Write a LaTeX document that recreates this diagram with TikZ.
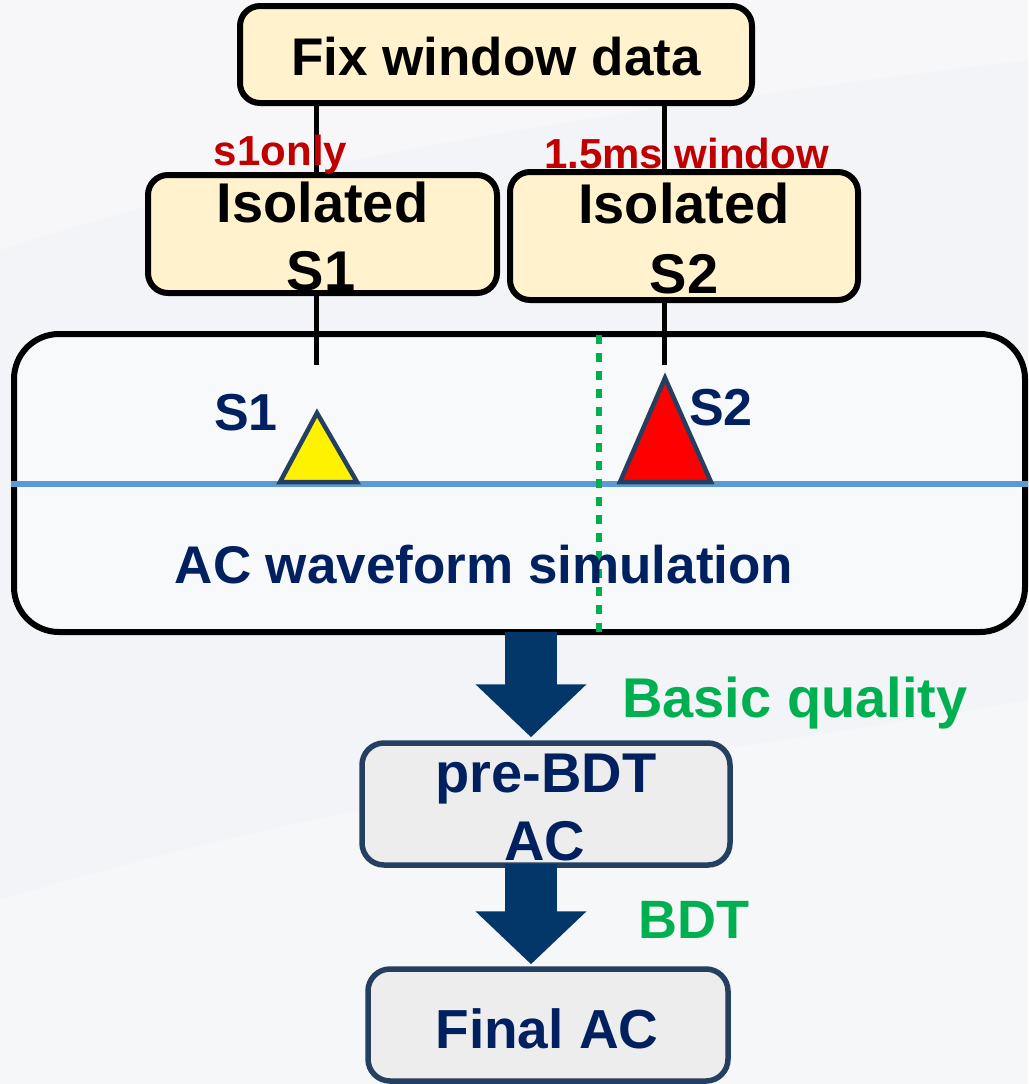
\documentclass[tikz,border=0pt]{standalone}
\usepackage{fontspec}
\setmainfont{Liberation Sans}
\usetikzlibrary{arrows.meta,calc}
\definecolor{bgc}{HTML}{F3F4F7}
\definecolor{boxfill}{HTML}{FFF2CC}
\definecolor{grayfill}{HTML}{EDEDED}
\definecolor{navy}{HTML}{002060}
\definecolor{darkedge}{HTML}{243F60}
\definecolor{arrowc}{HTML}{03376A}
\definecolor{redlab}{HTML}{C00000}
\definecolor{greenlab}{HTML}{00B050}
\definecolor{bluel}{HTML}{5B9BD5}
\definecolor{bigfill}{HTML}{F8F9FB}
\newcommand{\fs}[1]{\fontsize{#1}{#1}\selectfont\bfseries}
\begin{document}
\begin{tikzpicture}[x=1pt,y=-1pt,
  ybox/.style={draw=black,line width=6pt,fill=boxfill,rounded corners=20pt,inner sep=0pt},
  gbox/.style={draw=darkedge,line width=5.5pt,fill=grayfill,rounded corners=22pt,inner sep=0pt},
  txt/.style={anchor=base,inner sep=0pt},
  conn/.style={draw=black,line width=5pt},
  bigarrow/.style={draw=arrowc,line width=52pt,-{Triangle[length=53pt,width=108pt]}},
  tri/.style={draw=darkedge,line width=4.5pt,line join=miter}]
\useasboundingbox (0,0) rectangle (1028,1084);
\fill[bgc] (0,0) rectangle (1028,1084);
\fill[white,opacity=0.35] (0,250) .. controls (300,150) and (700,100) .. (1028,60) -- (1028,0) -- (0,0) -- cycle;
\fill[white,opacity=0.3] (0,900) .. controls (400,780) and (700,760) .. (1028,700) -- (1028,1084) -- (0,1084) -- cycle;

% boxes
\node[ybox,minimum width=512pt,minimum height=97pt] (fix) at (496,54.5) {};
\node[ybox,minimum width=349pt,minimum height=118pt] (iso1) at (322.5,234) {};
\node[ybox,minimum width=348pt,minimum height=128pt] (iso2) at (684,236) {};

% connectors
\coordinate (e1) at (316,365);
\coordinate (e2) at (664,365);
\draw[conn] (fix.south -| e1) -- (iso1.north -| e1);
\draw[conn] (fix.south -| e2) -- (iso2.north -| e2);

% big box
\node[draw=black,line width=6pt,fill=bigfill,rounded corners=45pt,minimum width=1011pt,minimum height=298pt,inner sep=0pt] (big) at (519.5,483) {};
\draw[conn] ($(iso1.south -| e1)+(0,-6)$) -- (e1);
\draw[conn] ($(iso2.south -| e2)+(0,-6)$) -- (e2);

% axis line
\coordinate (axend) at (1028,484);
\draw[bluel,line width=6pt] (big.west |- axend) -- (axend);

% dotted green line
\coordinate (dotx) at (599,0);
\draw[greenlab,line width=6pt,dash pattern=on 9pt off 9pt] (big.north -| dotx) ++(0,4) -- ($(big.south -| dotx)+(0,-3)$);

% triangles
\filldraw[tri,fill=yellow] (317,413) -- (357,482) -- (280,482) -- cycle;
\filldraw[tri,fill=red] (665,378) -- (711,482) -- (620,482) -- cycle;

% gray boxes
\node[gbox,minimum width=368pt,minimum height=122pt] (pre) at (546,804) {};
\node[gbox,minimum width=360pt,minimum height=112pt] (final) at (548,1025) {};

% arrows
\coordinate (ax) at (531,0);
\draw[bigarrow] (big.south -| ax) ++(0,-3) -- ($(pre.north -| ax)+(0,-3)$);
\draw[bigarrow] ($(pre.south -| ax)+(0,-4)$) -- ($(final.north -| ax)+(0,-2)$);

% texts
\node[txt] (tfix) at (496,75) {\fs{53}Fix window data};
\node[txt,text=redlab] (ls1) at (280.5,165) {\fs{42}s1only};
\node[txt,text=redlab] (ls2) at (686.5,168) {\fs{42}1.5ms window};
\node[txt] (ti1a) at (322.5,222) {\fs{56}Isolated};
\node[txt] (ti1b) at (321,290) {\fs{56}S1};
\node[txt] (ti2a) at (684,223) {\fs{56}Isolated};
\node[txt] (ti2b) at (684,293) {\fs{56}S2};
\node[txt,text=navy] (s1lab) at (246,430) {\fs{52}S1};
\node[txt,text=navy] (s2lab) at (721,425) {\fs{52}S2};
\node[txt,text=navy] (acw) at (484,583) {\fs{53}AC waveform simulation};
\node[txt,text=greenlab] (bq) at (795,717) {\fs{56}Basic quality};
\node[txt,text=greenlab] (bdt) at (694,938) {\fs{54}BDT};
\node[txt,text=navy] (tpre1) at (546,792) {\fs{56}pre-BDT};
\node[txt,text=navy] (tpre2) at (545,860) {\fs{56}AC};
\node[txt,text=navy] (tfin) at (547,1048) {\fs{55}Final AC};
\end{tikzpicture}
\end{document}
